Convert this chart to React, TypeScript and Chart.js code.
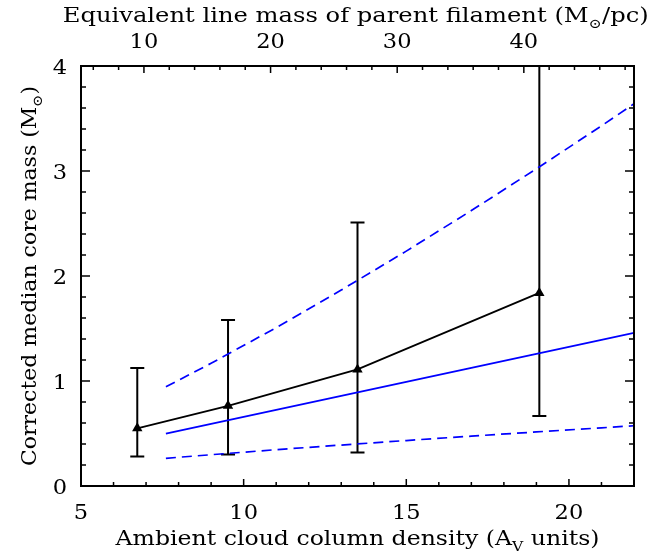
import React, { useEffect, useRef } from "react";
import { Chart, registerables } from "chart.js";

Chart.register(...registerables);

// Observed medians with error bars (x = ambient column density in Av)
const avPoints = [6.73, 9.52, 13.5, 19.09];
const massMedian = [0.549, 0.764, 1.11, 1.839];
const massLow = [0.28, 0.30, 0.32, 0.666];
const massHigh = [1.125, 1.58, 2.51, 4.5];

// Model curves
const modelAv = [7.61, 9, 11, 13, 15, 17, 19, 21, 22];
const modelMid = [0.498, 0.591, 0.724, 0.858, 0.992, 1.125, 1.259, 1.392, 1.459];
const modelHigh = [0.945, 1.169, 1.508, 1.866, 2.237, 2.623, 3.021, 3.43, 3.64];
const modelLow = [0.264, 0.298, 0.346, 0.39, 0.433, 0.475, 0.515, 0.554, 0.574];

// Tick labels
const xTickLabels = [5, 10, 15, 20];
const yTickLabels = [0, 1, 2, 3, 4];
const topTickLabels = [10, 20, 30, 40];

const FAMILY = "'DejaVu Serif', serif";

type Part = [string, boolean];

function drawRich(
  ctx: CanvasRenderingContext2D,
  parts: Part[],
  left: number,
  baseline: number,
  size: number,
  targetWidth: number
) {
  const sub = size * 0.66;
  const widths = parts.map(([t, s]) => {
    ctx.font = `${s ? sub : size}px ${FAMILY}`;
    return ctx.measureText(t).width;
  });
  const total = widths.reduce((a, b) => a + b, 0);
  const sx = targetWidth / total;
  ctx.save();
  ctx.translate(left, baseline);
  ctx.scale(sx, 1);
  ctx.textAlign = "left";
  ctx.textBaseline = "alphabetic";
  let cx = 0;
  parts.forEach(([t, s], i) => {
    ctx.font = `${s ? sub : size}px ${FAMILY}`;
    ctx.fillText(t, cx, s ? size * 0.3 : 0);
    cx += widths[i];
  });
  ctx.restore();
}

function drawLabel(
  ctx: CanvasRenderingContext2D,
  text: string,
  x: number,
  baseline: number,
  align: CanvasTextAlign,
  size: number,
  sx: number
) {
  ctx.save();
  ctx.translate(x, baseline);
  ctx.scale(sx, 1);
  ctx.font = `${size}px ${FAMILY}`;
  ctx.textAlign = align;
  ctx.textBaseline = "alphabetic";
  ctx.fillText(text, 0, 0);
  ctx.restore();
}

const framePlugin = {
  id: "framePlugin",
  beforeDatasetsDraw(chart: any) {
    const { ctx, chartArea: a, scales } = chart;
    const xs = scales.x, ys = scales.y;
    ctx.save();
    ctx.beginPath();
    ctx.rect(a.left, a.top, a.right - a.left, a.bottom - a.top);
    ctx.clip();
    ctx.strokeStyle = "#000";
    ctx.lineWidth = 2;
    for (let i = 0; i < avPoints.length; i++) {
      const px = xs.getPixelForValue(avPoints[i]);
      const lo = ys.getPixelForValue(massLow[i]);
      const hi = ys.getPixelForValue(massHigh[i]);
      ctx.beginPath();
      ctx.moveTo(px, lo);
      ctx.lineTo(px, hi);
      ctx.moveTo(px - 7, lo);
      ctx.lineTo(px + 7, lo);
      ctx.moveTo(px - 7, hi);
      ctx.lineTo(px + 7, hi);
      ctx.stroke();
    }
    ctx.restore();
  },
  afterDraw(chart: any) {
    const { ctx, chartArea: a, scales } = chart;
    const xs = scales.x, x2 = scales.x2, ys = scales.y;
    ctx.save();
    ctx.strokeStyle = "#000";
    ctx.lineWidth = 2;
    ctx.strokeRect(a.left, a.top, a.right - a.left, a.bottom - a.top);
    ctx.lineWidth = 1.5;
    ctx.beginPath();
    for (let v = 6; v <= 22; v++) {
      const p = xs.getPixelForValue(v);
      if (p > a.right - 1) continue;
      const len = v % 5 === 0 ? 7 : 4;
      ctx.moveTo(p, a.bottom);
      ctx.lineTo(p, a.bottom - len);
    }
    for (let v = 6; v <= 48; v += 2) {
      const p = x2.getPixelForValue(v);
      if (p > a.right - 1) continue;
      const len = v % 10 === 0 ? 7 : 4;
      ctx.moveTo(p, a.top);
      ctx.lineTo(p, a.top + len);
    }
    for (let k = 1; k < 20; k++) {
      const v = k * 0.2;
      const p = ys.getPixelForValue(v);
      const len = k % 5 === 0 ? 9 : 5;
      ctx.moveTo(a.left, p);
      ctx.lineTo(a.left + len, p);
      ctx.moveTo(a.right, p);
      ctx.lineTo(a.right - len, p);
    }
    ctx.stroke();

    ctx.fillStyle = "#000";
    // tick labels, placed through the chart's scales
    const TS = 20.5, TSX = 1.1;
    xTickLabels.forEach((v) => drawLabel(ctx, String(v), xs.getPixelForValue(v), a.bottom + 32.5, "center", TS, TSX));
    topTickLabels.forEach((v) => drawLabel(ctx, String(v), x2.getPixelForValue(v), a.top - 17.7, "center", TS, TSX));
    yTickLabels.forEach((v) => drawLabel(ctx, String(v), a.left - 14, ys.getPixelForValue(v) + 7.5, "right", TS, TSX));

    // axis titles
    drawRich(ctx, [["Ambient cloud column density (A", false], ["V", true], [" units)", false]], 115.5, 544.7, 20.5, 484);
    drawRich(ctx, [["Equivalent line mass of parent filament (M", false], ["\u2299", true], ["/pc)", false]], 62.7, 21.7, 20, 586);
    ctx.translate(35.5, 0);
    ctx.rotate(-Math.PI / 2);
    drawRich(ctx, [["Corrected median core mass (M", false], ["\u2299", true], [")", false]], -466, 0, 20.5, 380);
    ctx.restore();
  },
};

export default function App() {
  const ref = useRef<HTMLCanvasElement | null>(null);
  useEffect(() => {
    if (!ref.current) return;
    const chart = new Chart(ref.current, {
      type: "line",
      data: {
        datasets: [
          {
            data: modelAv.map((x, i) => ({ x, y: modelHigh[i] })),
            borderColor: "#0000ff",
            borderWidth: 1.7,
            borderDash: [10, 6],
            pointRadius: 0,
            fill: false,
          },
          {
            data: modelAv.map((x, i) => ({ x, y: modelMid[i] })),
            borderColor: "#0000ff",
            borderWidth: 1.8,
            pointRadius: 0,
            fill: false,
          },
          {
            data: modelAv.map((x, i) => ({ x, y: modelLow[i] })),
            borderColor: "#0000ff",
            borderWidth: 1.7,
            borderDash: [10, 6],
            pointRadius: 0,
            fill: false,
          },
          {
            data: avPoints.map((x, i) => ({ x, y: massMedian[i] })),
            borderColor: "#000",
            borderWidth: 1.8,
            pointStyle: "triangle",
            pointRadius: 6,
            pointBackgroundColor: "#000",
            pointBorderColor: "#000",
            pointBorderWidth: 0,
            fill: false,
          },
        ],
      },
      options: {
        animation: false,
        responsive: false,
        devicePixelRatio: 1,
        layout: { padding: { left: 0, right: 29, top: 0, bottom: 0 } },
        plugins: { legend: { display: false }, tooltip: { enabled: false }, title: { display: false } },
        scales: {
          x: {
            type: "linear",
            position: "bottom",
            min: 5,
            max: 22,
            grid: { display: false },
            border: { display: false },
            afterBuildTicks: (s: any) => { s.ticks = xTickLabels.map((v) => ({ value: v })); },
            afterFit: (s: any) => { s.height = 66; },
            ticks: { display: false },
          },
          x2: {
            type: "linear",
            position: "top",
            min: 5.03,
            max: 48.7,
            grid: { display: false },
            border: { display: false },
            afterBuildTicks: (s: any) => { s.ticks = topTickLabels.map((v) => ({ value: v })); },
            afterFit: (s: any) => { s.height = 66; },
            ticks: { display: false },
          },
          y: {
            type: "linear",
            position: "left",
            min: 0,
            max: 4,
            grid: { display: false },
            border: { display: false },
            afterBuildTicks: (s: any) => { s.ticks = yTickLabels.map((v) => ({ value: v })); },
            afterFit: (s: any) => { s.width = 81; },
            ticks: { display: false },
          },
        },
      },
      plugins: [framePlugin],
    } as any);
    return () => chart.destroy();
  }, []);
  return (
    <div style={{ position: "fixed", left: 0, top: 0, width: 663, height: 552, background: "#fff" }}>
      <canvas ref={ref} width={663} height={552} style={{ display: "block" }} />
    </div>
  );
}
